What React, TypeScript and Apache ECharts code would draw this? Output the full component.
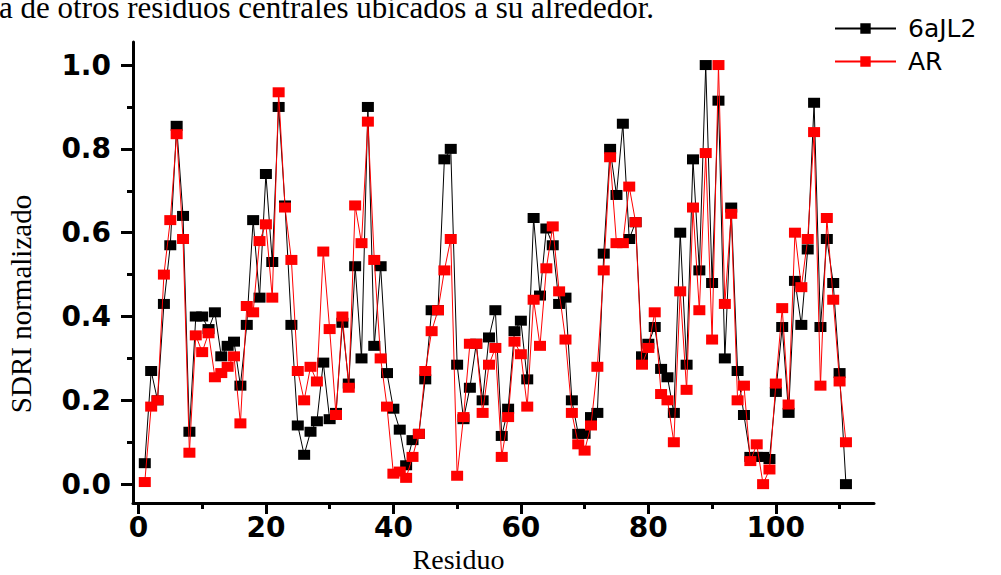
import React, { useEffect, useRef } from "react";
import * as echarts from "echarts";

const residues: number[] = Array.from({ length: 111 }, (_, i) => i + 1);

const sdri6aJL2: number[] = [
  0.05, 0.27, 0.2, 0.43, 0.57, 0.855, 0.64, 0.125, 0.4, 0.4,
  0.37, 0.41, 0.305, 0.33, 0.34, 0.235, 0.38, 0.63, 0.445, 0.74,
  0.53, 0.9, 0.665, 0.38, 0.14, 0.07, 0.125, 0.15, 0.29, 0.155,
  0.17, 0.385, 0.24, 0.52, 0.3, 0.9, 0.33, 0.52, 0.265, 0.18,
  0.13, 0.045, 0.105, 0.12, 0.25, 0.415, 0.415, 0.775, 0.8, 0.285,
  0.155, 0.23, 0.335, 0.2, 0.35, 0.415, 0.115, 0.18, 0.365, 0.39,
  0.25, 0.635, 0.45, 0.61, 0.57, 0.43, 0.445, 0.2, 0.12, 0.12,
  0.16, 0.17, 0.55, 0.8, 0.69, 0.86, 0.585, 0.625, 0.305, 0.335,
  0.375, 0.275, 0.255, 0.17, 0.6, 0.285, 0.775, 0.51, 1.0, 0.48,
  0.915, 0.3, 0.66, 0.27, 0.165, 0.065, 0.065, 0.065, 0.06, 0.22,
  0.375, 0.17, 0.485, 0.38, 0.56, 0.91, 0.375, 0.585, 0.48, 0.265, 0.0,
];

const sdriAR: number[] = [
  0.005, 0.185, 0.2, 0.5, 0.63, 0.835, 0.585, 0.075, 0.355, 0.315,
  0.36, 0.255, 0.265, 0.28, 0.305, 0.145, 0.425, 0.41, 0.58, 0.62,
  0.445, 0.935, 0.66, 0.535, 0.27, 0.2, 0.28, 0.245, 0.555, 0.37,
  0.165, 0.4, 0.23, 0.665, 0.575, 0.865, 0.535, 0.3, 0.185, 0.025,
  0.03, 0.015, 0.065, 0.12, 0.27, 0.365, 0.415, 0.51, 0.585, 0.02,
  0.16, 0.335, 0.335, 0.17, 0.285, 0.325, 0.065, 0.16, 0.34, 0.31,
  0.185, 0.44, 0.33, 0.515, 0.615, 0.46, 0.345, 0.17, 0.095, 0.08,
  0.14, 0.28, 0.51, 0.78, 0.575, 0.575, 0.71, 0.625, 0.285, 0.325,
  0.41, 0.215, 0.2, 0.1, 0.46, 0.225, 0.66, 0.415, 0.79, 0.345,
  1.0, 0.43, 0.645, 0.2, 0.235, 0.055, 0.095, 0.0, 0.035, 0.24,
  0.42, 0.19, 0.6, 0.47, 0.585, 0.84, 0.235, 0.635, 0.44, 0.245, 0.1,
];

const xMajorTicks: number[] = [0, 20, 40, 60, 80, 100];
const xMinorTicks: number[] = [10, 30, 50, 70, 90, 110];
const yMajorTicks: number[] = [0, 0.2, 0.4, 0.6, 0.8, 1.0];
const yMinorTicks: number[] = [0.1, 0.3, 0.5, 0.7, 0.9];

const seriesNames: string[] = ["6aJL2", "AR"];
const topText = "a de otros residuos centrales ubicados a su alrededor.";
const xTitle = "Residuo";
const yTitle = "SDRI normalizado";

const X_MIN = -0.85;
const X_MAX = 115.4;
const Y_MIN = -0.045;
const Y_MAX = 1.055;

export default function App() {
  const ref = useRef<HTMLDivElement>(null);

  useEffect(() => {
    if (!ref.current) return;
    const chart = echarts.init(ref.current, null, { renderer: "svg" });

    const tickFont = {
      fontFamily: "DejaVu Sans",
      fontWeight: "bold" as const,
      fontSize: 28,
      color: "#000",
    };

    const option: any = {
      animation: false,
      backgroundColor: "#fff",
      grid: {
        left: 133,
        right: 127,
        top: 42,
        bottom: 72,
        containLabel: false,
        outerBoundsMode: "none",
      },
      legend: {
        data: seriesNames,
        orient: "vertical",
        left: 829,
        top: 11,
        itemWidth: 61,
        itemHeight: 13,
        itemGap: 8,
        textStyle: {
          fontFamily: "DejaVu Sans",
          fontSize: 25,
          color: "#000",
          padding: [0, 0, 0, 7],
        },
      },
      graphic: [
        {
          type: "text",
          x: -1,
          y: 7,
          style: {
            text: topText,
            font: '31px "Liberation Serif"',
            fill: "#000",
            verticalAlign: "middle",
            align: "left",
          },
        },
      ],
      xAxis: [
        {
          type: "value",
          min: X_MIN,
          max: X_MAX,
          position: "bottom",
          axisLine: { show: true, onZero: false, lineStyle: { color: "#000", width: 3 } },
          axisTick: {
            show: true,
            customValues: xMajorTicks,
            length: 11,
            lineStyle: { color: "#000", width: 3 },
          },
          axisLabel: { customValues: xMajorTicks, margin: 10, ...tickFont },
          splitLine: { show: false },
          name: xTitle,
          nameLocation: "middle",
          nameGap: 41,
          nameTextStyle: {
            fontFamily: "Liberation Serif",
            fontSize: 28,
            color: "#000",
            padding: [0, 90, 0, 0],
          },
        },
        {
          type: "value",
          min: X_MIN,
          max: X_MAX,
          position: "bottom",
          axisLine: { show: false, onZero: false },
          axisTick: {
            show: true,
            customValues: xMinorTicks,
            length: 6,
            lineStyle: { color: "#000", width: 3 },
          },
          axisLabel: { show: false },
          splitLine: { show: false },
        },
      ],
      yAxis: [
        {
          type: "value",
          min: Y_MIN,
          max: Y_MAX,
          position: "left",
          axisLine: { show: true, onZero: false, lineStyle: { color: "#000", width: 3 } },
          axisTick: {
            show: true,
            customValues: yMajorTicks,
            length: 12,
            lineStyle: { color: "#000", width: 3 },
          },
          axisLabel: {
            customValues: yMajorTicks,
            margin: 22,
            formatter: (v: number) => v.toFixed(1),
            ...tickFont,
          },
          splitLine: { show: false },
          name: yTitle,
          nameLocation: "middle",
          nameRotate: 90,
          nameGap: 98,
          nameTextStyle: {
            fontFamily: "Liberation Serif",
            fontSize: 29,
            color: "#000",
            padding: [0, 63, 0, 0],
          },
        },
        {
          type: "value",
          min: Y_MIN,
          max: Y_MAX,
          position: "left",
          axisLine: { show: false, onZero: false },
          axisTick: {
            show: true,
            customValues: yMinorTicks,
            length: 6,
            lineStyle: { color: "#000", width: 3 },
          },
          axisLabel: { show: false },
          splitLine: { show: false },
        },
      ],
      series: [
        {
          type: "line",
          name: seriesNames[0],
          xAxisIndex: 0,
          yAxisIndex: 0,
          data: residues.map((r, i) => [r, sdri6aJL2[i]]),
          symbol: "rect",
          symbolSize: [12, 10],
          itemStyle: { color: "#000000" },
          lineStyle: { color: "#000000", width: 1 },
          z: 2,
        },
        {
          type: "line",
          name: seriesNames[1],
          xAxisIndex: 0,
          yAxisIndex: 0,
          data: residues.map((r, i) => [r, sdriAR[i]]),
          symbol: "rect",
          symbolSize: [12, 10],
          itemStyle: { color: "#ff0000" },
          lineStyle: { color: "#ff0000", width: 1 },
          z: 3,
        },
      ],
    };

    chart.setOption(option);
    return () => chart.dispose();
  }, []);

  return (
    <div
      ref={ref}
      style={{ position: "absolute", left: 0, top: 0, width: 1001, height: 575, background: "#fff" }}
    />
  );
}
